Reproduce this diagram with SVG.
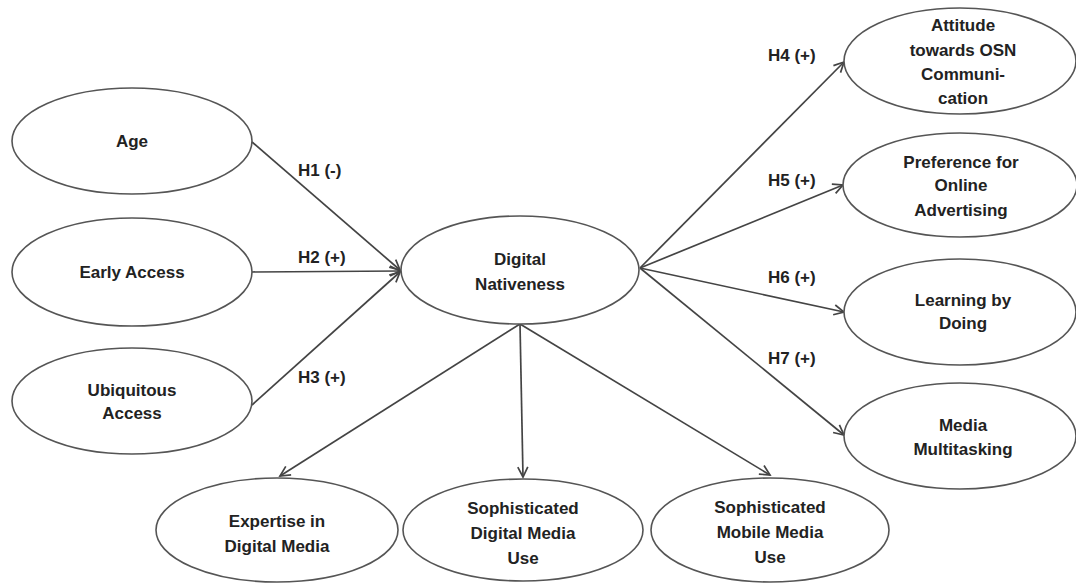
<svg xmlns="http://www.w3.org/2000/svg" width="1076" height="584" viewBox="0 0 1076 584">
<style>
.n ellipse{fill:#fff;stroke:#555;stroke-width:1.6}
.n text{font-family:"Liberation Sans",Arial,sans-serif;font-weight:bold;font-size:17px;fill:#222;text-anchor:middle}
.lbl{font-family:"Liberation Sans",Arial,sans-serif;font-weight:bold;font-size:17px;fill:#222}
.c line{stroke:#444;stroke-width:1.7;marker-end:url(#ah)}
</style>
<defs>
<marker id="ah" markerUnits="userSpaceOnUse" markerWidth="14" markerHeight="14" viewBox="0 0 14 14" refX="12" refY="7" orient="auto">
<path d="M2,2 L12,7 L2,12" fill="none" stroke="#444" stroke-width="1.7"/>
</marker>
</defs>
<rect width="1076" height="584" fill="#fff"/>
<g class="c" id="connectors">
<line x1="252" y1="142" x2="400" y2="270"/>
<line x1="252" y1="272" x2="400" y2="271"/>
<line x1="252" y1="405" x2="400" y2="272"/>
<line x1="640" y1="268" x2="844" y2="62"/>
<line x1="640" y1="268" x2="843" y2="185"/>
<line x1="640" y1="268" x2="844" y2="312"/>
<line x1="640" y1="268" x2="844" y2="435"/>
<line x1="520" y1="324" x2="280" y2="476"/>
<line x1="520" y1="324" x2="523" y2="477"/>
<line x1="520" y1="324" x2="770" y2="475"/>
</g>
<g id="labels">
<text class="lbl" x="298" y="176">H1 (-)</text>
<text class="lbl" x="298" y="263">H2 (+)</text>
<text class="lbl" x="298" y="383">H3 (+)</text>
<text class="lbl" x="768" y="61">H4 (+)</text>
<text class="lbl" x="768" y="186">H5 (+)</text>
<text class="lbl" x="768" y="283">H6 (+)</text>
<text class="lbl" x="768" y="364">H7 (+)</text>
</g>
<g class="n" id="age"><ellipse cx="132" cy="141" rx="120" ry="53"/><text x="132" y="147">Age</text></g>
<g class="n" id="early"><ellipse cx="132" cy="272" rx="120" ry="54"/><text x="132" y="278">Early Access</text></g>
<g class="n" id="ubiq"><ellipse cx="132" cy="401" rx="120" ry="53"/><text x="132" y="396">Ubiquitous</text><text x="132" y="419">Access</text></g>
<g class="n" id="dn"><ellipse cx="520" cy="270" rx="119" ry="54"/><text x="520" y="265">Digital</text><text x="520" y="290">Nativeness</text></g>
<g class="n" id="attitude"><ellipse cx="960" cy="61" rx="116" ry="53"/><text x="963" y="31">Attitude</text><text x="963" y="56">towards OSN</text><text x="963" y="80">Communi-</text><text x="963" y="104">cation</text></g>
<g class="n" id="pref"><ellipse cx="960" cy="185" rx="117" ry="52"/><text x="961" y="168">Preference for</text><text x="961" y="191">Online</text><text x="961" y="216">Advertising</text></g>
<g class="n" id="learn"><ellipse cx="960" cy="312" rx="116" ry="53"/><text x="963" y="306">Learning by</text><text x="963" y="329">Doing</text></g>
<g class="n" id="media"><ellipse cx="960" cy="436" rx="116" ry="53"/><text x="963" y="431">Media</text><text x="963" y="455">Multitasking</text></g>
<g class="n" id="expertise"><ellipse cx="277" cy="530" rx="121" ry="52"/><text x="277" y="527">Expertise in</text><text x="277" y="552">Digital Media</text></g>
<g class="n" id="sophdig"><ellipse cx="523" cy="530" rx="120" ry="51"/><text x="523" y="514">Sophisticated</text><text x="523" y="539">Digital Media</text><text x="523" y="564">Use</text></g>
<g class="n" id="sophmob"><ellipse cx="770" cy="530" rx="119" ry="52"/><text x="770" y="513">Sophisticated</text><text x="770" y="538">Mobile Media</text><text x="770" y="563">Use</text></g>
</svg>
